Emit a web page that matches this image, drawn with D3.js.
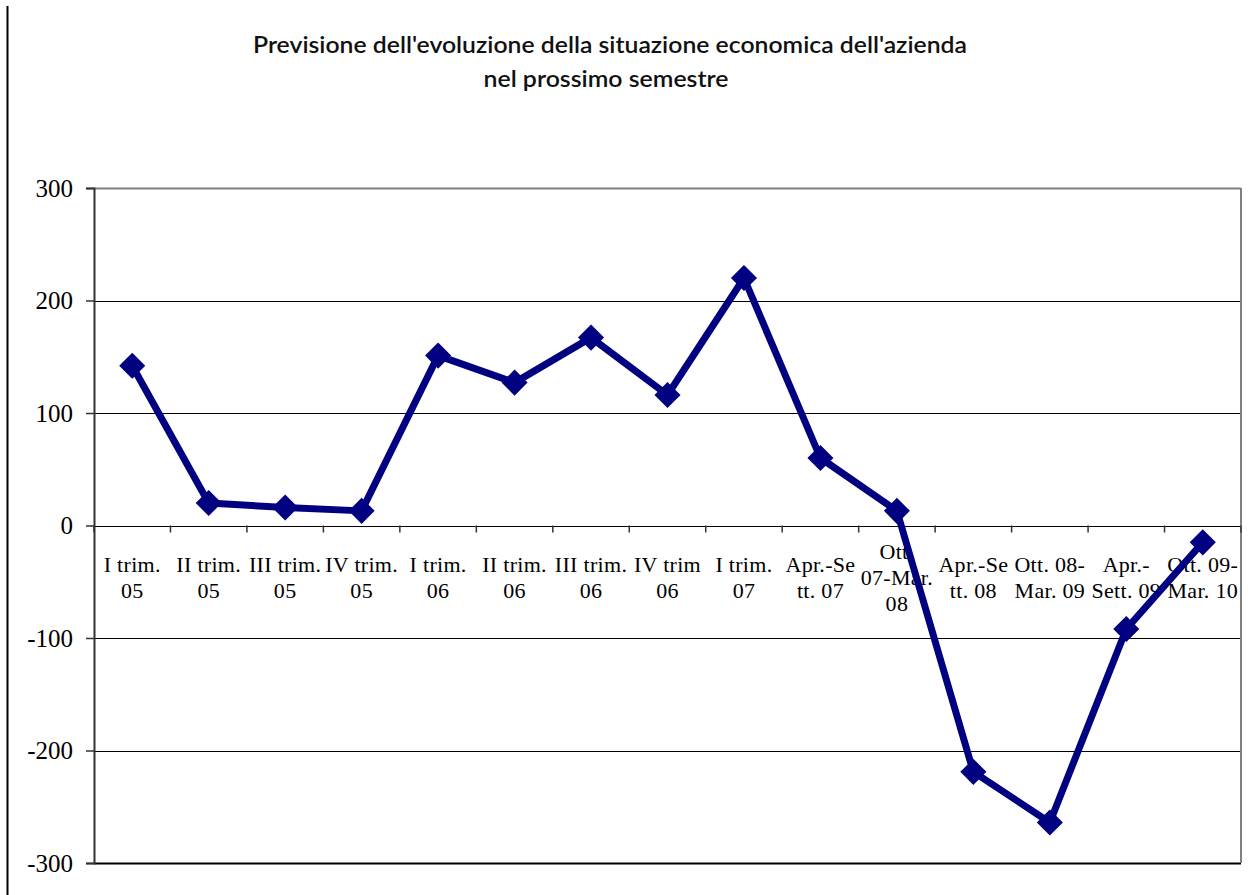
<!DOCTYPE html>
<html>
<head>
<meta charset="utf-8">
<script src="https://cdn.jsdelivr.net/npm/d3@7"></script>
<style>
  html, body { margin: 0; padding: 0; background: #fff; }
  svg { display: block; }
</style>
</head>
<body>
<script>
// Saldo delle previsioni per periodo di rilevazione
const categories = [
  ["I trim.", "05"],
  ["II trim.", "05"],
  ["III trim.", "05"],
  ["IV trim.", "05"],
  ["I trim.", "06"],
  ["II trim.", "06"],
  ["III trim.", "06"],
  ["IV trim", "06"],
  ["I trim.", "07"],
  ["Apr.-Se", "tt. 07"],
  ["Ott.", "07-Mar.", "08"],
  ["Apr.-Se", "tt. 08"],
  ["Ott. 08-", "Mar. 09"],
  ["Apr.-", "Sett. 09"],
  ["Ott. 09-", "Mar. 10"]
];
const values = [142, 20, 16, 13, 151, 127, 167, 116, 220, 60, 13, -219, -264, -92, -15];
const yTicks = [-300, -200, -100, 0, 100, 200, 300];
const titleLines = [
  { text: "Previsione dell'evoluzione della situazione economica dell'azienda", width: 714 },
  { text: "nel prossimo semestre", width: 245 }
];

const W = 1254, H = 895;
const plot = { left: 94, right: 1241, top: 188, bottom: 863 };

const svg = d3.select("body").append("svg")
  .attr("width", W).attr("height", H);

// frame line on the left edge
svg.append("line")
  .attr("x1", 7.5).attr("x2", 7.5)
  .attr("y1", 6).attr("y2", H)
  .attr("stroke", "#000").attr("stroke-width", 2);

// title
svg.append("g").selectAll("text")
  .data(titleLines)
  .join("text")
  .attr("x", (d, i) => (i === 0 ? 610 : 606))
  .attr("y", (d, i) => 53 + i * 34)
  .attr("text-anchor", "middle")
  .attr("font-family", "Lato, 'Open Sans', sans-serif")
  .attr("font-size", 23)
  .attr("font-weight", 600)
  .attr("textLength", d => d.width)
  .attr("lengthAdjust", "spacingAndGlyphs")
  .attr("fill", "#111")
  .text(d => d.text);

const x = d3.scaleBand()
  .domain(d3.range(categories.length))
  .range([plot.left, plot.right])
  .paddingInner(0).paddingOuter(0);

const y = d3.scaleLinear()
  .domain([-300, 300])
  .range([plot.bottom, plot.top]);

// horizontal gridlines
svg.append("g").selectAll("line")
  .data(yTicks)
  .join("line")
  .attr("x1", plot.left).attr("x2", plot.right)
  .attr("y1", d => Math.round(y(d)) + 0.5)
  .attr("y2", d => Math.round(y(d)) + 0.5)
  .attr("stroke", d => (d === 300 ? "#808080" : "#000"))
  .attr("stroke-width", d => (d === 300 || d === -300 ? 2 : 1.2));

// right border of the plot area
svg.append("line")
  .attr("x1", plot.right).attr("x2", plot.right)
  .attr("y1", plot.top).attr("y2", plot.bottom)
  .attr("stroke", "#808080").attr("stroke-width", 2);

// value axis
const yAxis = d3.axisLeft(y)
  .tickValues(yTicks)
  .tickSize(8)
  .tickPadding(13)
  .tickFormat(d => String(d));

const gy = svg.append("g")
  .attr("transform", `translate(${plot.left},0)`)
  .call(yAxis);
gy.select(".domain").attr("stroke", "#333").attr("stroke-width", 2);
gy.selectAll(".tick line").attr("stroke", "#333").attr("stroke-width", 1.5);
gy.selectAll(".tick text")
  .attr("font-family", "'Liberation Serif', 'Times New Roman', serif")
  .attr("font-size", 25)
  .attr("fill", "#000");

// category axis on the zero line, ticks at category boundaries
const boundaries = d3.range(categories.length + 1).map(i =>
  i < categories.length ? x(i) : x(categories.length - 1) + x.bandwidth());
const gx = svg.append("g");
gx.selectAll("line")
  .data(boundaries)
  .join("line")
  .attr("x1", d => d).attr("x2", d => d)
  .attr("y1", y(0)).attr("y2", y(0) + 7)
  .attr("stroke", "#333").attr("stroke-width", 1.5);

const lineH = 26;
const labelMid = y(0) + 52;
const labels = gx.selectAll("text.cat")
  .data(categories)
  .join("text")
  .attr("class", "cat")
  .attr("text-anchor", "middle")
  .attr("font-family", "'Liberation Serif', 'Times New Roman', serif")
  .attr("font-size", 22)
  .attr("letter-spacing", "0.3px")
  .attr("fill", "#000");
labels.each(function(d, i) {
  const cx = x(i) + x.bandwidth() / 2;
  const first = labelMid - (d.length - 1) * lineH / 2;
  d3.select(this).selectAll("tspan")
    .data(d)
    .join("tspan")
    .attr("x", cx)
    .attr("y", (t, j) => first + j * lineH)
    .attr("dy", "0.35em")
    .text(t => t);
});

// series line
const pts = values.map((v, i) => [x(i) + x.bandwidth() / 2, y(v)]);
svg.append("path")
  .datum(pts)
  .attr("d", d3.line())
  .attr("fill", "none")
  .attr("stroke", "#000080")
  .attr("stroke-width", 7)
  .attr("stroke-linejoin", "round");

// diamond markers
const diamond = d3.symbol().type(d3.symbolSquare).size(340);
svg.append("g").selectAll("path")
  .data(pts)
  .join("path")
  .attr("d", diamond)
  .attr("transform", d => `translate(${d[0]},${d[1]}) rotate(45)`)
  .attr("fill", "#000080");
</script>
</body>
</html>
